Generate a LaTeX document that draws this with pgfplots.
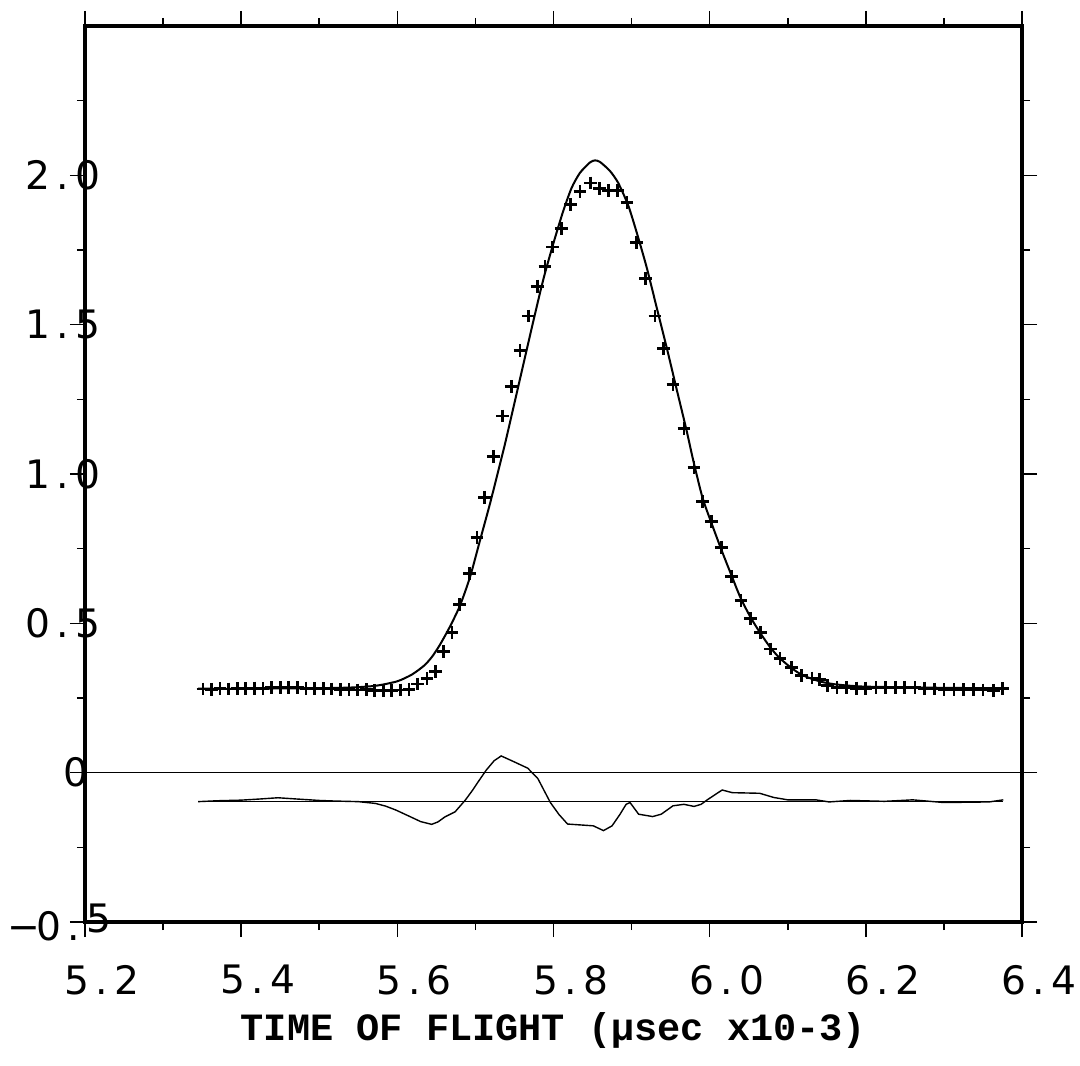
\documentclass[border=0pt]{standalone}
\usepackage{fontspec}
\usepackage{pgfplots}
\usepackage{pgfplotstable}
\pgfplotsset{compat=1.18}
\newfontfamily\tickfont{DejaVu Sans}
\newfontfamily\titlefont{Liberation Mono}
\newcommand\cl[1]{\makebox[12.5pt][c]{#1}}
\newcommand\tk[3]{\cl{#1}\cl{#2}\cl{#3}}

\pgfplotstableread{
x y
5.351 0.280
5.362 0.279
5.373 0.281
5.384 0.280
5.395 0.282
5.406 0.281
5.417 0.283
5.428 0.282
5.439 0.284
5.450 0.285
5.461 0.286
5.472 0.284
5.483 0.283
5.494 0.282
5.505 0.281
5.516 0.280
5.527 0.279
5.538 0.278
5.549 0.277
5.560 0.278
5.571 0.276
5.582 0.275
5.593 0.276
5.604 0.277
5.615 0.279
5.626 0.297
5.638 0.314
5.649 0.338
5.659 0.405
5.670 0.470
5.680 0.562
5.692 0.666
5.702 0.788
5.712 0.922
5.723 1.059
5.735 1.194
5.746 1.294
5.757 1.414
5.768 1.529
5.779 1.629
5.789 1.695
5.799 1.760
5.810 1.821
5.822 1.902
5.834 1.947
5.847 1.974
5.859 1.955
5.870 1.950
5.882 1.950
5.894 1.909
5.906 1.775
5.918 1.654
5.930 1.529
5.941 1.419
5.953 1.300
5.967 1.151
5.980 1.023
5.991 0.909
6.002 0.842
6.015 0.755
6.028 0.657
6.040 0.576
6.052 0.515
6.065 0.468
6.078 0.414
6.090 0.381
6.105 0.353
6.118 0.325
6.131 0.317
6.141 0.311
6.151 0.291
6.163 0.285
6.175 0.284
6.188 0.283
6.200 0.283
6.213 0.284
6.225 0.285
6.238 0.286
6.250 0.286
6.263 0.285
6.275 0.283
6.288 0.280
6.300 0.279
6.313 0.279
6.325 0.278
6.338 0.278
6.350 0.277
6.363 0.276
6.3755 0.282
}\datapts

\pgfplotstableread{
x y
5.345 0.281
5.400 0.281
5.450 0.282
5.500 0.283
5.540 0.285
5.5725 0.291
5.600 0.306
5.619 0.329
5.635 0.360
5.645 0.390
5.6545 0.428
5.667 0.487
5.680 0.558
5.693 0.654
5.7058 0.777
5.7186 0.900
5.7292 1.010
5.7378 1.100
5.748 1.215
5.7612 1.365
5.774 1.510
5.7868 1.650
5.7996 1.770
5.8124 1.880
5.8232 1.958
5.8338 2.008
5.8466 2.043
5.853 2.050
5.8594 2.045
5.8722 2.015
5.8828 1.975
5.8956 1.900
5.9064 1.810
5.9192 1.693
5.932 1.559
5.9448 1.425
5.9576 1.285
5.9704 1.146
5.979 1.045
5.9909 0.920
6.0024 0.835
6.0152 0.745
6.028 0.660
6.0396 0.585
6.0524 0.520
6.0652 0.466
6.078 0.418
6.0899 0.383
6.1049 0.350
6.1177 0.328
6.131 0.314
6.145 0.303
6.160 0.296
6.180 0.291
6.200 0.288
6.250 0.286
6.300 0.284
6.350 0.283
6.375 0.283
}\fitline

\pgfplotstableread{
x y
5.345 -0.097
5.370 -0.094
5.400 -0.092
5.425 -0.088
5.447 -0.084
5.470 -0.088
5.500 -0.093
5.520 -0.095
5.550 -0.097
5.572 -0.103
5.585 -0.112
5.598 -0.125
5.617 -0.148
5.630 -0.164
5.644 -0.173
5.652 -0.165
5.661 -0.148
5.674 -0.131
5.687 -0.092
5.696 -0.060
5.705 -0.025
5.714 0.009
5.724 0.040
5.733 0.056
5.749 0.037
5.767 0.015
5.780 -0.020
5.788 -0.060
5.796 -0.100
5.807 -0.140
5.818 -0.172
5.851 -0.178
5.864 -0.194
5.875 -0.178
5.885 -0.140
5.893 -0.106
5.898 -0.100
5.909 -0.139
5.927 -0.147
5.938 -0.139
5.953 -0.111
5.967 -0.106
5.980 -0.113
5.989 -0.106
5.998 -0.089
6.016 -0.058
6.029 -0.067
6.064 -0.069
6.082 -0.083
6.100 -0.091
6.136 -0.091
6.153 -0.098
6.180 -0.093
6.224 -0.096
6.260 -0.091
6.300 -0.100
6.358 -0.098
6.376 -0.091
}\resid

\begin{document}
\begin{tikzpicture}
\useasboundingbox (-42.5pt,-71.5pt) rectangle (497.5pt,461pt);
\begin{axis}[
  at={(0pt,0pt)}, anchor=south west,
  scale only axis, width=468.5pt, height=448pt,
  xmin=5.2, xmax=6.4, ymin=-0.5, ymax=2.5,
  xtick={5.2,5.4,5.6,5.8,6.0,6.2,6.4},
  minor xtick={5.3,5.5,5.7,5.9,6.1,6.3},
  ytick={-0.5,0,0.5,1,1.5,2},
  minor ytick={-0.25,0.25,0.75,1.25,1.75,2.25},
  xticklabels={{\tk5.2},{\tk5.4},{\tk5.6},{\tk5.8},{\tk6.0},{\tk6.2},{\tk6.4}},
  yticklabels={{\cl{−}\cl{0}\cl{.}\cl{\raisebox{4pt}{5}}},{\cl{0}\kern11.25pt},{\tk0.5\kern5.25pt},{\tk1.0\kern5.25pt},{\tk1.5\kern5.25pt},{\tk2.0\kern5.25pt}},
  tick align=outside,
  major tick length=7.5pt, minor tick length=4pt,
  every tick/.append style={black, line width=0.8pt},
  axis line style={line width=2.2pt},
  tick label style={font=\tickfont\fontsize{19.6}{20}\selectfont},
  xticklabel style={anchor=north, inner sep=0pt, xshift=8.5pt, yshift=-14pt},
  yticklabel style={anchor=east, inner sep=0pt, xshift=20.75pt},
  xlabel={TIME OF FLIGHT (µsec x10-3)},
  xlabel style={font=\titlefont\bfseries\fontsize{19.3}{22}\selectfont, at={(axis description cs:0.5,0)}, anchor=center, yshift=-54.5pt},
]
\addplot[black, line width=0.7pt] coordinates {(5.2,0) (6.4,0)};
\addplot[black, line width=0.8pt] coordinates {(5.345,-0.097) (6.376,-0.097)};
\addplot[black, line width=0.7pt] table[x=x,y=y] {\resid};
\addplot[black, line width=1pt, smooth, tension=0.4] table[x=x,y=y] {\fitline};
\addplot[black, only marks, mark=+, mark size=3.2pt, mark options={line width=1.4pt}] table[x=x,y=y] {\datapts};
\end{axis}
\end{tikzpicture}
\end{document}
